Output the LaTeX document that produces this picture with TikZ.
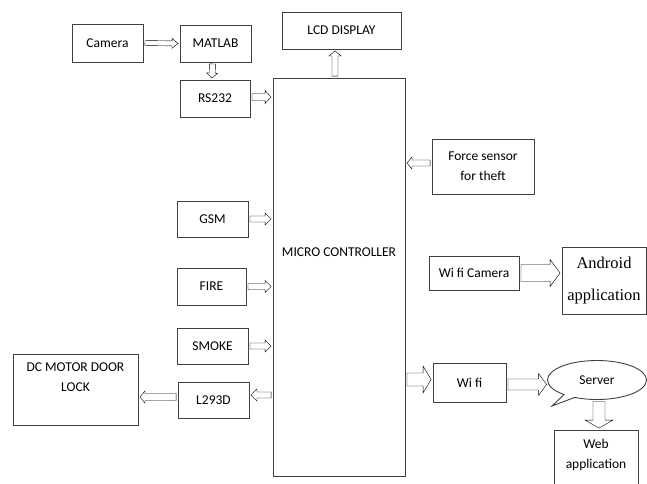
\documentclass[tikz,border=0pt]{standalone}
\usepackage{fontspec}
\setmainfont{Carlito}
\newfontfamily\appserif{Liberation Serif}
\usetikzlibrary{arrows.meta, positioning, calc, shapes.callouts}

\begin{document}
\begin{tikzpicture}[x=1pt, y=-1pt,
    every node/.style={font=\fontsize{13.5}{20}\selectfont},
    box/.style={draw=black!75, line width=0.9pt, inner sep=0pt, align=center},
    % hollow block arrow: {shaft half width}{head half width}{head length}
    blk/.style n args={3}{draw=black!75, line width=0.8pt, to path={
        let \p1=(\tikztostart), \p2=(\tikztotarget),
            \n1={veclen(\x2-\x1,\y2-\y1)}, \n2={(\x2-\x1)/\n1}, \n3={(\y2-\y1)/\n1},
            \p3=({\x1+1.5*\n2},{\y1+1.5*\n3}), \p4=({\x2-1.5*\n2},{\y2-1.5*\n3}) in
        ({\x3-\n3*#1},{\y3+\n2*#1}) -- ({\x4-#3*\n2-\n3*#1},{\y4-#3*\n3+\n2*#1})
        -- ({\x4-#3*\n2-\n3*#2},{\y4-#3*\n3+\n2*#2}) -- (\p4)
        -- ({\x4-#3*\n2+\n3*#2},{\y4-#3*\n3-\n2*#2}) -- ({\x4-#3*\n2+\n3*#1},{\y4-#3*\n3-\n2*#1})
        -- ({\x3+\n3*#1},{\y3-\n2*#1}) -- cycle}}]
    \useasboundingbox (0,0) rectangle (647,483);

    % blocks
    \node[box, minimum width=71, minimum height=38] (cam) at (107.5,43) {Camera};
    \node[box, minimum width=71, minimum height=37] (matlab) at (215.5,43.5) {MATLAB};
    \node[box, minimum width=70, minimum height=37] (rs) at (215,98.5) {RS232};
    \node[box, minimum width=119, minimum height=37] (lcd) at (341.5,30.5) {LCD DISPLAY};
    \node[box, minimum width=132, minimum height=398] (mc) at (339,277) {};
    \node at ([yshift=-175pt]mc.north) {MICRO CONTROLLER};
    \node[box, minimum width=102, minimum height=55] (force) at (483,166.5) {Force sensor\\for theft};
    \node[box, minimum width=71, minimum height=36] (gsm) at (212.5,219) {GSM};
    \node[box, minimum width=69, minimum height=37] (fire) at (211.5,286.5) {FIRE};
    \node[box, minimum width=71, minimum height=36] (smoke) at (212.5,346) {SMOKE};
    \node[box, minimum width=71, minimum height=36] (l293) at (213.5,400) {L293D};
    \node[box, minimum width=125, minimum height=71] (dc) at (75.5,389.5) {};
    \node[below=6pt of dc.north, align=center] {DC MOTOR DOOR\\LOCK};
    \node[box, minimum width=90, minimum height=34] (wcam) at (474,273) {Wi fi Camera};
    \node[box, minimum width=84, minimum height=67,
        font=\appserif\fontsize{16.5}{32}\selectfont] (android) at (604,280.5) {Android\\application};
    \node[box, minimum width=73, minimum height=39] (wifi) at (469.5,382.5) {Wi fi};
    \node[ellipse callout, draw=black!75, line width=0.9pt, inner sep=0pt,
        minimum width=99, minimum height=39, callout absolute pointer={(552,406)}] (server) at (597,380) {Server};
    \node[box, minimum width=84, minimum height=62] (web) at (596,461) {};
    \node[below=6pt of web.north, align=center] {Web\\application};

    % hollow arrows
    \draw (cam.east) to[blk={2.5}{5}{6}] (matlab.west);
    \draw ([xshift=-3pt]matlab.south) to[blk={3}{5.5}{5}] ([xshift=-3pt]rs.north);
    \draw ([yshift=1.5pt]rs.east) to[blk={3.5}{6.5}{6}] ($(rs.east -| mc.west)+(0,-1.5)$);
    \draw ([xshift=-4pt]mc.north) to[blk={3}{6}{5}] ($(mc.north |- lcd.south)+(-4,0)$);
    \draw ([yshift=3.5pt]force.west) to[blk={3}{6}{5}] ($(force.west -| mc.east)+(0,-3.5)$);
    \draw (gsm.east) to[blk={3}{6}{6}] (gsm.east -| mc.west);
    \draw (fire.east) to[blk={3}{6}{6}] (fire.east -| mc.west);
    \draw (smoke.east) to[blk={3}{6}{6}] (smoke.east -| mc.west);
    \draw ($(l293.east -| mc.west)+(0,-5)$) to[blk={3}{6}{6}] ([yshift=5pt]l293.east);
    \draw ([yshift=3pt]l293.west) to[blk={3.5}{6}{5}] ($(l293.west -| dc.east)+(0,-3)$);
    \draw ($(wifi.west -| mc.east)+(0,-3)$) to[blk={6.5}{13.5}{8}] ([yshift=3pt]wifi.west);
    \draw ([yshift=-2pt]wifi.east) to[blk={5.5}{11}{8}] ($(wifi.east -| server.west)+(1,2)$);
    \draw ([xshift=2pt]server.south) to[blk={6}{14}{8}] ($(server.south |- web.north)+(2,0)$);
    \draw (wcam.east) to[blk={8.5}{13.5}{10}] (wcam.east -| android.west);
\end{tikzpicture}
\end{document}
